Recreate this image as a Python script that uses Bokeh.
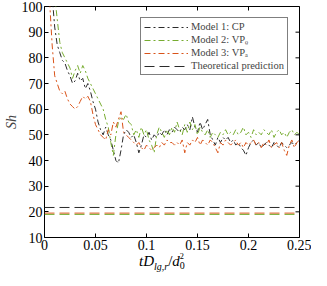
import numpy as np
from bokeh.plotting import figure
from bokeh.layouts import column
from bokeh.models import Legend, LegendItem, Div, FixedTicker, Range1d
from bokeh.embed import file_html
from bokeh.resources import INLINE

step = 0.0025
red_y = [102, 85, 73, 70, 67, 66, 67, 64, 62, 61, 60, 61, 63, 65, 64, 65, 63, 58, 54, 52,
         50, 49, 48, 52, 50, 55, 53, 56, 59, 51, 50, 49, 48, 47, 46, 47, 45, 44, 46, 45,
         44, 45, 46, 45, 47, 46, 48, 47, 47, 46, 47, 46, 48, 43, 47, 46, 48, 47, 49, 46,
         48, 47, 46, 48, 47, 45, 43, 47, 46, 48, 47, 46, 47, 48, 46, 47, 45, 47, 46, 47,
         48, 46, 47, 45, 47, 46, 48, 45, 46, 47, 45, 47, 44, 42, 46, 48, 45, 47, 48]
red_x0 = 0.005
green_y = [104, 95, 86, 82, 80, 78, 76, 72, 75, 77, 74, 77, 75, 72, 70, 68, 66, 64, 62, 60,
           56, 53, 47, 42, 50, 55, 57, 56, 58, 55, 54, 50, 52, 49, 53, 50, 52, 48, 46, 43,
           50, 53, 51, 49, 52, 50, 53, 51, 55, 52, 50, 54, 51, 55, 52, 54, 50, 53, 51, 50,
           52, 49, 51, 50, 49, 51, 50, 52, 50, 51, 50, 52, 50, 51, 53, 50, 51, 49, 52, 50,
           51, 50, 52, 51, 50, 52, 49, 51, 52, 50, 51, 49, 51, 52, 50, 51, 50]
green_x0 = 0.01
black_y = [104, 92, 85, 82, 79, 78, 75, 73, 70, 71, 74, 71, 72, 68, 70, 67, 63, 60, 55, 52,
           50, 53, 50, 48, 44, 40, 39, 44, 50, 52, 51, 49, 50, 47, 43, 46, 50, 49, 51, 48,
           50, 49, 51, 50, 52, 50, 52, 51, 53, 52, 51, 53, 52, 54, 52, 57, 53, 51, 55, 52,
           54, 56, 50, 48, 46, 49, 47, 49, 48, 49, 47, 48, 46, 47, 45, 44, 42, 45, 47, 48,
           46, 47, 45, 46, 47, 46, 45, 47, 46, 45, 47, 46, 45, 46, 47, 46, 47, 48]
black_x0 = 0.0075
theory_cp = 21.7
theory_vprho = 19.0
theory_vpa = 19.5
x_ticks = [0, 0.05, 0.1, 0.15, 0.2, 0.25]
y_ticks = [10, 20, 30, 40, 50, 60, 70, 80, 90, 100]
x_min, x_max, y_min, y_max = 0, 0.25, 10, 100

red_x = [red_x0 + i * step for i in range(len(red_y))]
green_x = [green_x0 + i * step for i in range(len(green_y))]
black_x = [black_x0 + i * step for i in range(len(black_y))]

C_BLACK = "#2b2b2b"
C_GREEN = "#77AC30"
C_RED = "#D95319"
SERIF = "Liberation Serif"

p = figure(width=311, height=252, output_backend="svg", toolbar_location=None,
           x_range=Range1d(x_min, x_max), y_range=Range1d(y_min, y_max),
           min_border_left=20, min_border_right=12, min_border_top=6, min_border_bottom=10)
p.outline_line_color = "black"
p.outline_line_width = 1
p.grid.visible = False
p.background_fill_color = "white"

for ax in p.xaxis + p.yaxis:
    ax.major_tick_in = 4
    ax.major_tick_out = 0
    ax.minor_tick_line_color = None
    ax.axis_line_color = None
    ax.major_label_text_font = SERIF
    ax.major_label_text_font_size = "14px"
    ax.major_label_text_color = "black"
p.xaxis.ticker = FixedTicker(ticks=x_ticks)
p.yaxis.ticker = FixedTicker(ticks=y_ticks)
p.xaxis.major_label_overrides = {0: "0", 0.05: "0.05", 0.1: "0.1", 0.15: "0.15", 0.2: "0.2", 0.25: "0.25"}
p.xaxis.major_label_standoff = 2
p.yaxis.major_label_standoff = 2
p.yaxis.axis_label = "Sh"
p.yaxis.axis_label_text_font = SERIF
p.yaxis.axis_label_text_font_style = "italic"
p.yaxis.axis_label_text_font_size = "14px"
p.yaxis.axis_label_standoff = 0

# inward ticks on the top and right frame edges (box on)
p.scatter(x_ticks, [y_max] * len(x_ticks), marker="dash", size=8, angle=np.pi / 2,
          line_color="black", line_width=1)
p.scatter([x_max] * len(y_ticks), y_ticks, marker="dash", size=8,
          line_color="black", line_width=1)

dd = "6 3 2 3"
r1 = p.line(black_x, black_y, line_color=C_BLACK, line_width=1, line_dash=dd)
r2 = p.line(green_x, green_y, line_color=C_GREEN, line_width=1, line_dash=dd)
r3 = p.line(red_x, red_y, line_color=C_RED, line_width=1, line_dash=dd)
ld = "10 5"
r4 = p.line([x_min, x_max], [theory_cp, theory_cp], line_color=C_BLACK, line_width=1, line_dash=ld)
p.line([x_min, x_max], [theory_vpa, theory_vpa], line_color=C_RED, line_width=1, line_dash=ld)
p.line([x_min, x_max], [theory_vprho, theory_vprho], line_color=C_GREEN, line_width=1, line_dash=ld)

legend = Legend(items=[
    LegendItem(label="Model 1: CP", renderers=[r1]),
    LegendItem(label="Model 2: VP\u1D68", renderers=[r2]),
    LegendItem(label="Model 3: VP\u2090", renderers=[r3]),
    LegendItem(label="Theoretical prediction", renderers=[r4]),
], location="top_right")
legend.label_text_font = SERIF
legend.label_text_font_size = "10.5px"
legend.label_height = 10
legend.glyph_height = 10
legend.glyph_width = 44
legend.label_standoff = 3
legend.spacing = 2
legend.padding = 3
legend.margin = 11
legend.border_line_color = "black"
legend.border_line_width = 1
legend.background_fill_alpha = 1
p.add_layout(legend, "center")

xlabel = Div(
    text=('<div style="font-family:\'Liberation Serif\',serif;font-size:15px;line-height:16px;'
          'white-space:nowrap;padding-left:139px;color:black">'
          '<i>tD</i><sub style="font-size:10px"><i>lg,r</i></sub>/<i>d</i>'
          '<span style="display:inline-block;vertical-align:-3px;font-size:10px;line-height:9px">'
          '<sup style="display:block;vertical-align:0">2</sup><span style="display:block">0</span>'
          '</span></div>'),
    width=311, height=18, margin=(0, 0, 0, 0))

layout = column(p, xlabel, spacing=0)
open("out.html", "w").write(file_html(layout, INLINE))
